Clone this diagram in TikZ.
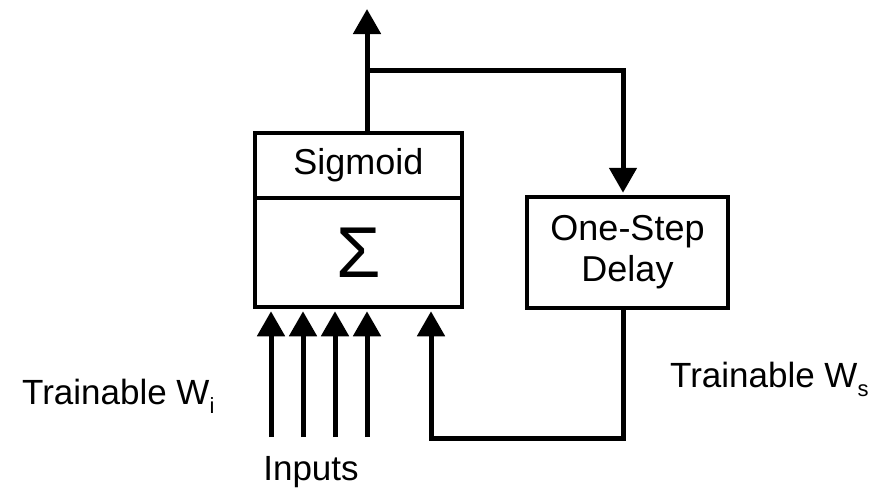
\documentclass[tikz,border=0pt]{standalone}
\usepackage{fontspec}
\setmainfont{Liberation Sans}
\usetikzlibrary{arrows.meta}
\newcommand{\mysub}[1]{\raisebox{-9.5pt}{\fontsize{22}{22}\selectfont #1}}
\begin{document}
\begin{tikzpicture}[x=1pt,y=-1pt,
  box/.style={draw,line width=4.5pt,inner sep=0pt,minimum width=207pt,font=\fontsize{36}{43}\selectfont},
  wire/.style={line width=5pt},
  arr/.style={wire,-{Triangle[width=27pt,length=25pt]},shorten >=2pt},
  lbl/.style={inner sep=0pt,font=\fontsize{35}{42}\selectfont}]
\useasboundingbox (0,0) rectangle (883,491);
\node[box,minimum height=65pt] (sig) at (358.5,165.5) {Sigmoid};
\node[box,minimum height=109pt] (sum) at (358.5,252.5) {\fontsize{72}{80}\selectfont\raisebox{-2pt}{Σ}};
\node[box,minimum width=201pt,minimum height=111pt,align=center] (delay) at (627.5,252.5) {One-Step\\[-2pt]Delay};
\coordinate (out) at (367,7);
\coordinate (j) at (367,70);
\coordinate (fb) at (623,438);
\coordinate (fbin) at (431,438);
\draw[arr] (sig.north -| out) -- (out);
\draw[arr] (j) -| (delay.north -| fb);
\draw[arr] (delay.south -| fb) -- (fb) -- (fbin) -- (sum.south -| fbin);
\foreach \x/\n in {271/a,303/b,335/c,367/d}{
  \coordinate (in\n) at (\x,437);
  \draw[arr] (in\n) -- (sum.south -| in\n);
}
\node[lbl] (inputs) at (311,472) {Inputs};
\node[lbl,anchor=base west] (twi) at (22,404) {Trainable W\mysub{i}};
\node[lbl,anchor=base west] (tws) at (670,387) {Trainable W\mysub{s}};
\end{tikzpicture}
\end{document}
